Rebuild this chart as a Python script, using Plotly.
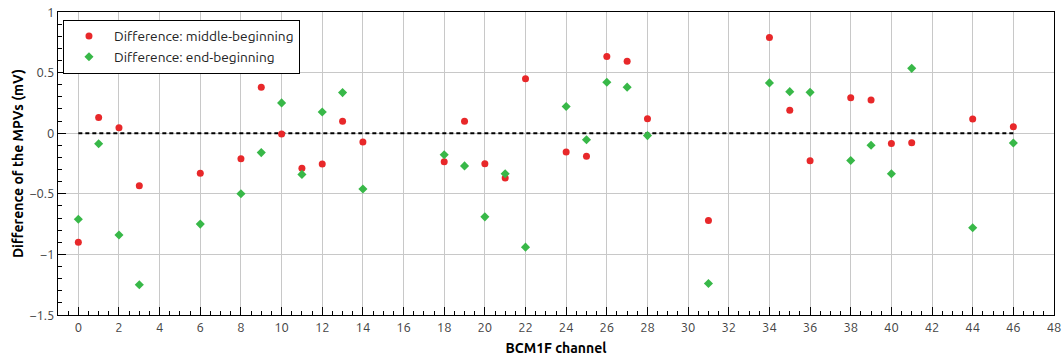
import plotly.graph_objects as go

channels_mid = [0, 1, 2, 3, 6, 8, 9, 10, 11, 12, 13, 14, 18, 19, 20, 21, 22, 24, 25, 26, 27, 28,
                31, 34, 35, 36, 38, 39, 40, 41, 44, 46]
diff_mid = [-0.90, 0.13, 0.045, -0.434, -0.33, -0.21, 0.38, -0.007, -0.29, -0.255, 0.098, -0.073,
            -0.235, 0.098, -0.252, -0.37, 0.45, -0.156, -0.19, 0.632, 0.594, 0.12,
            -0.72, 0.79, 0.19, -0.227, 0.293, 0.274, -0.084, -0.078, 0.117, 0.054]
channels_end = channels_mid
diff_end = [-0.71, -0.087, -0.84, -1.25, -0.75, -0.50, -0.16, 0.25, -0.34, 0.175, 0.335, -0.46,
            -0.178, -0.27, -0.69, -0.335, -0.94, 0.22, -0.054, 0.42, 0.38, -0.02,
            -1.24, 0.415, 0.343, 0.337, -0.225, -0.10, -0.335, 0.535, -0.78, -0.081]
zero_x = [0, 46]
zero_y = [0, 0]

font_family = "Ubuntu, Open Sans, DejaVu Sans, sans-serif"

fig = go.Figure()
fig.add_trace(go.Scatter(x=zero_x, y=zero_y, mode="lines",
                         line=dict(color="black", width=2, dash="4px,3px"),
                         showlegend=False, hoverinfo="skip"))
fig.add_trace(go.Scatter(x=channels_mid, y=diff_mid, mode="markers",
                         name="Difference: middle-beginning",
                         marker=dict(symbol="circle", size=7, color="#e8282a")))
fig.add_trace(go.Scatter(x=channels_end, y=diff_end, mode="markers",
                         name="Difference: end-beginning",
                         marker=dict(symbol="diamond", size=7, color="#38b848")))

axis_common = dict(
    showline=True, linecolor="black", linewidth=1, mirror=True,
    showgrid=True, gridcolor="#c8c8c8", gridwidth=1,
    ticks="inside", ticklen=8, tickcolor="black", tickwidth=1,
    tickfont=dict(size=13, color="#444", family=font_family),
    zeroline=False, automargin=False,
)

fig.update_xaxes(range=[-1, 48], tick0=0, dtick=2,
                 minor=dict(dtick=0.5, ticks="inside", ticklen=4, tickcolor="black", showgrid=False),
                 title=dict(text="<b>BCM1F channel</b>", font=dict(size=14, color="black", family=font_family),
                            standoff=10),
                 **axis_common)
fig.update_yaxes(range=[-1.5, 1], tick0=0, dtick=0.5,
                 minor=dict(dtick=0.1, ticks="inside", ticklen=4, tickcolor="black", showgrid=False),
                 title=dict(text="<b>Difference of the MPVs (mV)</b>",
                            font=dict(size=14, color="black", family=font_family), standoff=2),
                 **axis_common)

fig.update_layout(
    width=1064, height=360,
    margin=dict(l=58, r=10, t=12, b=45),
    plot_bgcolor="white", paper_bgcolor="white",
    font=dict(family=font_family),
    legend=dict(x=0.005, y=0.975, xanchor="left", yanchor="top",
                bgcolor="white", bordercolor="black", borderwidth=1,
                font=dict(size=13.7, color="#222", family=font_family),
                itemwidth=40, tracegroupgap=0),
)

fig.write_html("out.html")
